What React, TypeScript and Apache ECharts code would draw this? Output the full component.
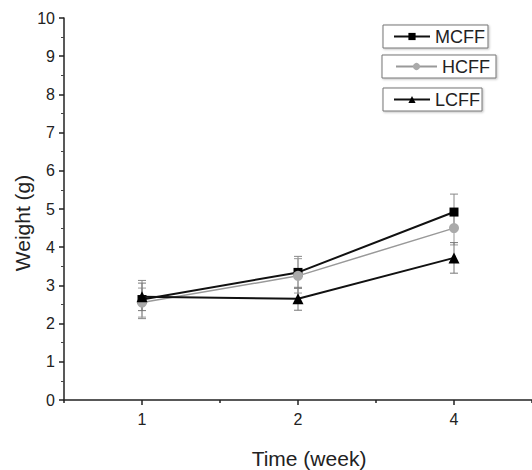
import React, { useEffect, useRef } from "react";
import * as echarts from "echarts";

const weeks = ["1", "2", "4"];
const mcff = [2.63, 3.34, 4.92];
const mcffErr = [0.5, 0.42, 0.47];
const hcff = [2.55, 3.25, 4.5];
const hcffErr = [0.38, 0.45, 0.44];
const lcff = [2.7, 2.65, 3.72];
const lcffErr = [0.36, 0.3, 0.4];
const yTicks = [0, 10, 1];

const FONT = "Liberation Sans";

function errData(vals: number[], errs: number[]) {
  return vals.map((v, i) => [i, v - errs[i], v + errs[i]]);
}

function errSeries(name: string, vals: number[], errs: number[], color: string) {
  return {
    type: "custom",
    name: name + "-err",
    xAxisIndex: 0,
    yAxisIndex: 0,
    z: 1,
    silent: true,
    data: errData(vals, errs),
    renderItem: (params: any, api: any) => {
      const x = api.value(0);
      const lo = api.coord([x, api.value(1)]);
      const hi = api.coord([x, api.value(2)]);
      const w = 4;
      const style = { stroke: color, lineWidth: 1 };
      return {
        type: "group",
        children: [
          { type: "line", shape: { x1: lo[0], y1: lo[1], x2: hi[0], y2: hi[1] }, style },
          { type: "line", shape: { x1: lo[0] - w, y1: lo[1], x2: lo[0] + w, y2: lo[1] }, style },
          { type: "line", shape: { x1: hi[0] - w, y1: hi[1], x2: hi[0] + w, y2: hi[1] }, style },
        ],
      };
    },
  };
}

function legendBox(name: string, left: number, top: number, padding: number[], itemWidth: number) {
  return {
    data: [name],
    left,
    top,
    orient: "horizontal",
    padding,
    itemWidth,
    itemHeight: 9,
    itemGap: 0,
    borderColor: "#777",
    borderWidth: 1,
    shadowColor: "rgba(0,0,0,0.25)",
    shadowBlur: 2,
    shadowOffsetX: 1,
    shadowOffsetY: 1,
    backgroundColor: "#fff",
    selectedMode: false,
    textStyle: { fontFamily: FONT, fontSize: 18, color: "#222", lineHeight: 19 },
  };
}

export default function App() {
  const ref = useRef<HTMLDivElement>(null);
  useEffect(() => {
    if (!ref.current) return;
    const chart = echarts.init(ref.current, undefined, { renderer: "svg" });
    chart.setOption({
      animation: false,
      backgroundColor: "#fff",
      grid: { left: 64, right: 0, top: 18, bottom: 70, containLabel: false },
      legend: [
        legendBox("MCFF", 383, 25, [2, 3, 2, 10], 36),
        legendBox("HCFF", 382, 55, [2, 6, 2, 13], 41),
        legendBox("LCFF", 383, 88, [2, 2, 2, 10], 36),
      ],
      xAxis: [
        {
          type: "category",
          data: weeks,
          boundaryGap: true,
          axisLine: { show: true, lineStyle: { color: "#222", width: 1.5 } },
          axisTick: { show: true, alignWithLabel: true, length: 5, lineStyle: { color: "#222", width: 1.5 } },
          axisLabel: { fontFamily: FONT, fontSize: 16, color: "#222", margin: 11 },
          splitLine: { show: false },
        },
        {
          type: "category",
          data: weeks,
          position: "bottom",
          boundaryGap: true,
          axisLine: { show: false },
          axisTick: { show: true, length: 3, lineStyle: { color: "#222", width: 1.5 } },
          axisLabel: { show: false },
          splitLine: { show: false },
        },
      ],
      yAxis: {
        type: "value",
        min: yTicks[0],
        max: yTicks[1],
        interval: yTicks[2],
        axisLine: { show: true, lineStyle: { color: "#222", width: 1.5 } },
        axisTick: { show: true, length: 5, lineStyle: { color: "#222", width: 1.5 } },
        minorTick: { show: true, splitNumber: 2, length: 3, lineStyle: { color: "#444", width: 1 } },
        axisLabel: { fontFamily: FONT, fontSize: 16, color: "#222", margin: 9 },
        splitLine: { show: false },
      },
      graphic: [
        {
          type: "text",
          x: 22,
          y: 223,
          rotation: Math.PI / 2,
          style: {
            text: "Weight (g)",
            fontFamily: FONT,
            fontSize: 21,
            fill: "#222",
            align: "center",
            verticalAlign: "middle",
          },
        },
        {
          type: "text",
          x: 309,
          y: 458,
          style: {
            text: "Time (week)",
            fontFamily: FONT,
            fontSize: 21,
            fill: "#222",
            align: "center",
            verticalAlign: "middle",
          },
        },
      ],
      series: [
        errSeries("MCFF", mcff, mcffErr, "#888"),
        errSeries("HCFF", hcff, hcffErr, "#999"),
        errSeries("LCFF", lcff, lcffErr, "#777"),
        {
          type: "line",
          name: "MCFF",
          data: mcff,
          z: 2,
          symbol: "rect",
          symbolSize: 9,
          itemStyle: { color: "#000" },
          lineStyle: { color: "#111", width: 2 },
        },
        {
          type: "line",
          name: "HCFF",
          data: hcff,
          z: 3,
          symbol: "circle",
          symbolSize: 10,
          itemStyle: { color: "#aaa" },
          lineStyle: { color: "#999", width: 1.5 },
        },
        {
          type: "line",
          name: "LCFF",
          data: lcff,
          z: 4,
          symbol: "triangle",
          symbolSize: 11,
          itemStyle: { color: "#000" },
          lineStyle: { color: "#111", width: 2 },
        },
      ],
    });
    return () => chart.dispose();
  }, []);
  return (
    <div
      ref={ref}
      style={{ position: "fixed", left: 0, top: 0, width: 532, height: 470, background: "#fff" }}
    />
  );
}
